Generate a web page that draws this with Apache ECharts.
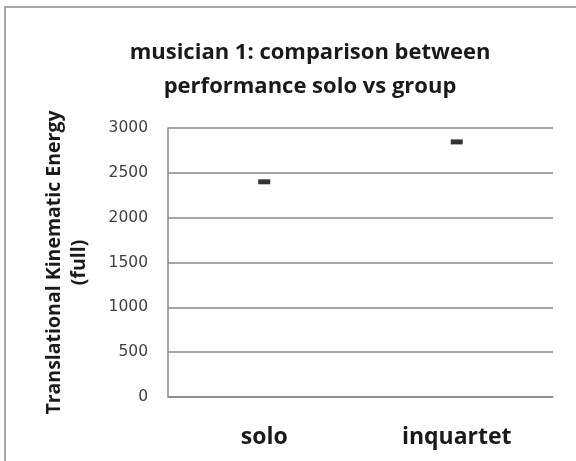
<!DOCTYPE html>
<html><head><meta charset="utf-8">
<script src="https://cdn.jsdelivr.net/npm/echarts@6/dist/echarts.min.js"></script>
<style>html,body{margin:0;padding:0;background:#fff}#c{width:576px;height:461px}</style>
</head><body><div id="c"></div>
<script>
var categories = ['solo', 'inquartet'];
var values = [2400, 2845];
var yTicks = [0, 500, 1000, 1500, 2000, 2500, 3000];
var titleText = 'musician 1: comparison between\nperformance solo vs group';
var yName = 'Translational Kinematic Energy\n(full)';

var chart = echarts.init(document.getElementById('c'), null, {renderer: 'canvas'});
chart.setOption({
  animation: false,
  backgroundColor: '#fff',
  graphic: [{
    type: 'rect', shape: {x: 5, y: 7, width: 620, height: 500},
    style: {fill: 'none', stroke: '#8c8c8c', lineWidth: 1.5}, z: -1
  }],
  title: {
    text: titleText, left: 305, top: 31, textAlign: 'center',
    textStyle: {fontFamily: 'Open Sans', fontWeight: 'bold', fontSize: 22, lineHeight: 34, color: '#1a1a1a'}
  },
  grid: {left: 168, right: 23, top: 128, bottom: 64, containLabel: false},
  xAxis: {
    type: 'category', data: categories, boundaryGap: true,
    axisLine: {show: true, lineStyle: {color: '#888', width: 1.5}},
    axisTick: {show: false},
    axisLabel: {margin: 29, fontFamily: 'Open Sans', fontWeight: 'bold', fontSize: 23, color: '#1a1a1a'}
  },
  yAxis: {
    type: 'value', min: yTicks[0], max: yTicks[yTicks.length - 1], interval: 500,
    name: yName, nameLocation: 'middle', nameGap: 76, nameRotate: 90,
    nameTextStyle: {fontFamily: 'Open Sans', fontWeight: 'bold', fontSize: 19.5, lineHeight: 25, color: '#1a1a1a'},
    axisLine: {show: true, lineStyle: {color: '#888', width: 1.5}},
    axisTick: {show: false},
    splitLine: {show: true, lineStyle: {color: '#888', width: 1.5}},
    axisLabel: {margin: 20, fontFamily: 'DejaVu Sans', fontSize: 15.5, color: '#404040',
      formatter: function (v) { return String(v); }}
  },
  series: [{
    type: 'scatter', data: values, symbol: 'rect', symbolSize: [12, 5],
    itemStyle: {color: '#000'}
  }]
});
</script></body></html>
